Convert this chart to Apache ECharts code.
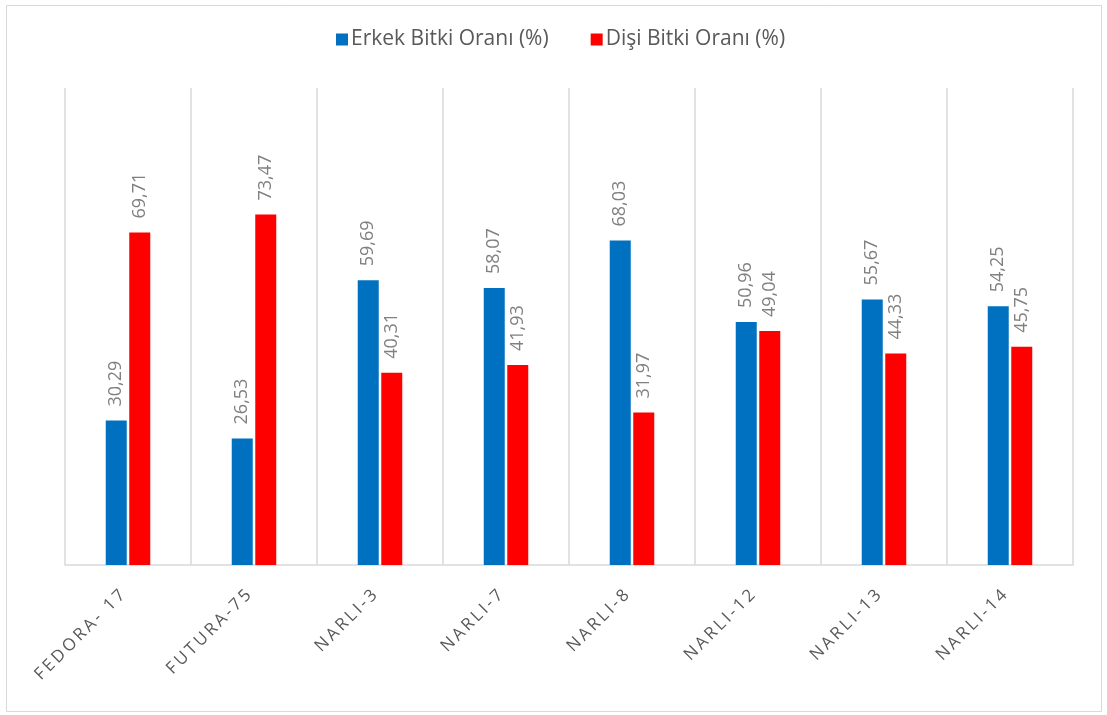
<!DOCTYPE html>
<html>
<head>
<meta charset="utf-8">
<script src="https://cdn.jsdelivr.net/npm/echarts@6/dist/echarts.min.js"></script>
<style>
  html, body { margin: 0; padding: 0; background: #fff; }
  #chart { width: 1107px; height: 715px; }
</style>
</head>
<body>
<div id="chart"></div>
<script>
const categories = ["FEDORA- 17", "FUTURA-75", "NARLI-3", "NARLI-7", "NARLI-8", "NARLI-12", "NARLI-13", "NARLI-14"];
const erkekValues = [30.29, 26.53, 59.69, 58.07, 68.03, 50.96, 55.67, 54.25];
const disiValues = [69.71, 73.47, 40.31, 41.93, 31.97, 49.04, 44.33, 45.75];
const seriesNames = ["Erkek Bitki Oranı (%)", "Dişi Bitki Oranı (%)"];

const fontFamily = "'Open Sans', 'Noto Sans', sans-serif";

// virgüllü ondalık etiket
const fmt = p => p.value.toFixed(2).replace(".", ",");

const barLabel = {
  show: true,
  position: "top",
  rotate: 90,
  align: "left",
  verticalAlign: "middle",
  distance: 14,
  color: "#808080",
  fontSize: 18,
  fontFamily: fontFamily,
  formatter: fmt,
};

const chart = echarts.init(document.getElementById("chart"));
chart.setOption({
  animation: false,
  graphic: [
    {
      type: "rect",
      shape: { x: 6.5, y: 5.5, width: 1095, height: 706 },
      style: { fill: "none", stroke: "#d9d9d9", lineWidth: 1 },
    },
  ],
  legend: {
    top: 24,
    left: 331,
    itemWidth: 12,
    itemHeight: 12,
    itemGap: 42,
    icon: "rect",
    textStyle: { color: "#595959", fontSize: 21, fontFamily: fontFamily, padding: [0, 0, 0, -2] },
    data: seriesNames,
  },
  grid: { left: 65, right: 34, top: 88, bottom: 150 },
  xAxis: {
    type: "category",
    data: categories,
    axisLine: { lineStyle: { color: "#d9d9d9", width: 1.5 } },
    axisTick: { show: false },
    splitLine: { show: true, lineStyle: { color: "#d9d9d9", width: 1.5 } },
    axisLabel: {
      rotate: 45,
      margin: 22,
      padding: [0, 8, 0, 0],
      color: "#595959",
      fontSize: 17,
      fontFamily: fontFamily,
      // harf aralığı için ince boşluk
      formatter: v => v.split("").join("\u2009"),
    },
  },
  yAxis: {
    type: "value",
    min: 0,
    max: 100,
    show: false,
    splitLine: { show: false },
  },
  series: [
    {
      name: seriesNames[0],
      type: "bar",
      data: erkekValues,
      barWidth: 21,
      barGap: "12%",
      itemStyle: { color: "#0070c0" },
      label: barLabel,
    },
    {
      name: seriesNames[1],
      type: "bar",
      data: disiValues,
      barWidth: 21,
      itemStyle: { color: "#ff0000" },
      label: barLabel,
    },
  ],
});
</script>
</body>
</html>
